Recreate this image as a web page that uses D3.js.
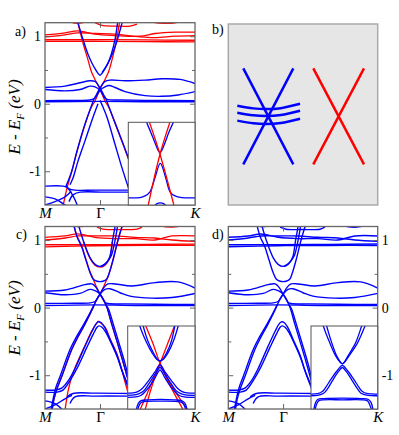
<!DOCTYPE html>
<html>
<head>
<meta charset="utf-8">
<script src="https://cdn.jsdelivr.net/npm/d3@7"></script>
<style>
  body { margin: 0; background: #fff; }
  text { font-family: "Liberation Serif", "Times New Roman", serif; }
</style>
</head>
<body>
<svg width="399" height="435"></svg>
<script>
// k path length along M - Γ - K (arbitrary units), energies in eV
const kTicks = [0, 55, 150];
const kLabels = ["M", "Γ", "K"];
const eMajor = [-1, 0, 1];
const eMinor = [-0.5, 0.5];
const eRange = [-1.5, 1.2];

// ---- panel a ----
const aRed = [
  [[0,1.02],[20,1.05],[33,1.08],[50,1.03],[70,1.01],[95,1.0],[110,1.04],[130,1.06],[150,1.06]],
  [[0,0.99],[20,1.02],[33,1.05],[50,1.04],[70,1.03],[95,0.99],[110,0.98],[130,1.0],[150,1.01]],
  [[0,0.95],[50,0.95],[100,0.945],[150,0.94]],
  [[0,0.925],[50,0.925],[100,0.92],[150,0.915]],
  [[20,1.27],[26,1.21],[33,1.19],[40,1.21],[45,1.27]],
  [[50,1.2],[57,1.16],[70,1.15],[85,1.15],[92,1.18]],
  [[100,1.27],[110,1.2],[122,1.19],[133,1.21],[140,1.27]],
  [[55,0.22],[50,0.36],[46.5,0.47],[43,0.65],[38,0.9],[32,1.25]],
  [[55,0.22],[60,0.36],[63.5,0.47],[67,0.65],[71,0.9],[75,1.25]],
  [[55,0.22],[50,0.04],[46,-0.06],[40,-0.31],[32,-0.71],[26.7,-1.01],[22,-1.25],[18,-1.52]],
  [[55,0.22],[60,0.04],[64,-0.06],[70,-0.29],[77,-0.56],[84,-0.84]]
];
const aBlue = [
  [[32,1.25],[38,0.95],[43.3,0.72],[47,0.6],[50,0.52],[53,0.45],[55,0.42],[57,0.45],[60,0.52],[63,0.6],[66,0.72],[70,0.95],[73,1.25]],
  [[57,0.46],[61,0.55],[65,0.66],[69,0.8],[73,0.98],[78,1.25]],
  [[0,0.24],[20,0.26],[35,0.31],[45,0.34],[50,0.33],[53,0.28],[55,0.23],[57,0.18],[59,0.12],[61,0.07],[64,-0.05],[70,-0.28],[77,-0.55],[84,-0.83]],
  [[150,0.3],[135,0.36],[117,0.37],[100,0.35],[80,0.34],[65,0.35],[60,0.33],[57,0.28],[55,0.23],[53,0.18],[51,0.12],[49,0.07],[46,-0.05],[40,-0.3],[32,-0.7],[26.7,-1.0],[23,-1.15],[21,-1.22]],
  [[55,0.05],[58,-0.05],[62,-0.2],[70,-0.6],[77,-0.95],[84,-1.27]],
  [[53,0.0],[48,-0.2],[40,-0.55],[33,-0.85],[28,-1.1],[25,-1.2]],
  [[0,0.21],[20,0.19],[35,0.21],[45,0.26],[50,0.25],[55,0.2],[58,0.13],[60,0.08],[63,0.06],[75,0.055],[100,0.05],[150,0.045]],
  [[0,0.045],[30,0.05],[45,0.055],[50,0.08],[52,0.13],[55,0.2],[60,0.25],[64,0.27],[70,0.24],[80,0.18],[100,0.12],[117,0.11],[133,0.13],[150,0.18]],
  [[0,0.03],[50,0.035],[100,0.03],[150,0.03]],
  [[0,-1.22],[18,-1.22],[22,-1.24],[26.7,-1.33],[31.7,-1.48],[33,-1.55]],
  [[21,-1.22],[24,-1.26],[30,-1.28],[50,-1.28],[84,-1.28]],
  [[24,-1.45],[28,-1.35],[35,-1.31],[60,-1.31],[84,-1.31]],
  [[0,-1.38],[10,-1.41],[15,-1.45],[21.7,-1.52]],
  [[0,-1.5],[10,-1.45],[20,-1.38],[26,-1.3]]
];

// ---- panel c (panel d shows the same bands, all blue) ----
const cRedTop = [
  [[0,1.04],[20,1.06],[33,1.09],[50,1.04],[70,1.02],[90,1.02],[110,1.0],[127,1.06],[150,1.06]],
  [[0,1.0],[20,1.03],[33,1.06],[50,1.06],[70,1.06],[90,1.04],[110,1.03],[127,1.0],[150,0.98]],
  [[0,0.93],[50,0.93],[100,0.935],[150,0.94]],
  [[0,0.9],[50,0.915],[100,0.92],[150,0.92]],
  [[24,1.27],[30,1.21],[37,1.2],[44,1.24]],
  [[52,1.19],[58,1.16],[75,1.155],[92,1.16],[97,1.19]],
  [[108,1.27],[116,1.21],[127,1.19],[138,1.22],[143,1.27]]
];
const cRedCone = [
  [[55,0.2],[51,0.32],[48,0.43],[45,0.53],[41,0.71],[36.7,0.91],[32,1.06],[28.3,1.26]],
  [[55,0.2],[59,0.32],[62,0.43],[64.2,0.51],[68,0.71],[72,0.95],[75,1.11],[78.3,1.26]],
  [[55,0.2],[51,0.1],[48,0.0],[40,-0.245],[33,-0.435],[26.7,-0.625],[16.7,-1.02],[12,-1.2],[9,-1.35],[7,-1.52]],
  [[55,0.2],[59,0.1],[62,0.0],[66.7,-0.245],[72,-0.5],[78,-0.8],[84,-1.12]],
  [[38.3,0.98],[45,0.728],[50,0.628],[55,0.598],[60,0.628],[64.5,0.728],[67.5,0.98]],
  [[53.3,-0.198],[47,-0.34],[40,-0.56],[30,-0.89],[26,-1.06],[23,-1.24],[20,-1.52]],
  [[53.3,-0.198],[60,-0.29],[65,-0.46],[72,-0.69],[76.7,-0.91],[80,-1.1],[84,-1.3]]
];
const cBlue = [
  [[33,1.25],[38.3,0.99],[45,0.74],[50,0.64],[55,0.61],[60,0.64],[64.5,0.74],[67.5,0.99],[70.7,1.25]],
  [[56,0.615],[61,0.66],[66,0.76],[70,0.99],[73,1.25]],
  [[28.3,1.25],[32,1.05],[36.7,0.9],[41,0.7],[45,0.52],[48.3,0.42],[52,0.39],[58,0.39],[61.7,0.42],[64,0.5],[68,0.7],[72,0.94],[75,1.1],[78.3,1.25]],
  [[0,0.244],[20,0.26],[40,0.34],[47,0.35],[51,0.3],[55,0.2],[59,0.1],[62,0.0],[66.7,-0.24],[72,-0.5],[78,-0.8],[84,-1.12]],
  [[150,0.29],[133,0.38],[110,0.37],[87,0.32],[70,0.35],[63,0.35],[59,0.3],[55,0.2],[51,0.1],[48,0.0],[40,-0.24],[33,-0.43],[26.7,-0.62],[16.7,-1.02],[12,-1.2],[9,-1.35],[7,-1.52]],
  [[49,0.04],[47,-0.02],[39,-0.24],[31.5,-0.43],[25,-0.62],[15,-1.02],[10.5,-1.2],[6,-1.52]],
  [[61,0.04],[63.5,-0.02],[68.2,-0.24],[73.5,-0.5],[79.5,-0.8],[85,-1.12]],
  [[0,0.22],[20,0.19],[35,0.21],[45,0.27],[50,0.25],[55,0.2],[58,0.13],[60,0.08],[63,0.06],[80,0.055],[110,0.05],[150,0.045]],
  [[0,0.06],[30,0.065],[45,0.07],[50,0.09],[52,0.13],[55,0.2],[60,0.27],[65,0.28],[75,0.22],[85,0.17],[107,0.14],[127,0.15],[150,0.21]],
  [[0,0.03],[50,0.04],[100,0.03],[150,0.03]],
  [[0,-1.22],[10,-1.22],[16.7,-1.19],[23.3,-1.08],[30,-0.9],[40,-0.57],[47,-0.35],[51,-0.24],[53.3,-0.21],[56,-0.22],[60,-0.3],[65,-0.47],[72,-0.7],[76.7,-0.92],[81.7,-1.1],[85,-1.2]],
  [[0,-1.25],[12,-1.25],[18,-1.22],[25,-1.08],[32,-0.9],[41.5,-0.6],[48,-0.4],[52,-0.29],[54,-0.27],[57,-0.29],[61,-0.37],[66,-0.52],[73,-0.76],[78,-0.98],[85,-1.25]],
  [[22,-1.32],[28,-1.27],[50,-1.265],[85,-1.27]],
  [[25,-1.42],[30,-1.32],[50,-1.31],[85,-1.31]],
  [[0,-1.38],[10,-1.42],[18,-1.52]],
  [[0,-1.5],[10,-1.44],[20,-1.35],[27,-1.3]]
];

// ---- insets: k relative to Γ, energy window 0 .. 0.3 eV ----
const inK = [-1, 1];
const inE = [0, 0.3];
const aInRed = [
  [[-0.40,0.312],[-0.05,0.184],[0.40,-0.016]],
  [[0.28,0.312],[-0.05,0.184],[-0.43,-0.016]]
];
const aInBlue = [
  [[-0.47,0.31],[-0.45,0.30],[-0.33,0.265],[-0.2,0.226],[-0.1,0.197],[-0.05,0.19],[0,0.197],[0.1,0.226],[0.22,0.265],[0.35,0.30],[0.37,0.31]],
  [[-1.05,0.026],[-0.65,0.027],[-0.5,0.033],[-0.35,0.048],[-0.2,0.099],[-0.04,0.151],[0.12,0.099],[0.25,0.048],[0.4,0.033],[0.6,0.027],[1.05,0.026]],
  [[-0.25,-0.01],[-0.15,0.004],[-0.04,0.008],[0.07,0.004],[0.17,-0.01]]
];
const cInRed = [
  [[-0.5,0.31],[-0.26,0.24],[-0.04,0.165],[0.24,0.09],[0.68,-0.01]],
  [[0.42,0.31],[0.2,0.24],[-0.04,0.165],[-0.3,0.09],[-0.66,-0.01]],
  [[-0.04,0.165],[0.3,0.085],[0.82,-0.01]],
  [[-0.04,0.165],[-0.26,0.09],[-0.5,-0.01]]
];
const cInBlue = [
  [[-0.66,0.31],[-0.64,0.3],[-0.46,0.246],[-0.28,0.204],[-0.14,0.18],[-0.04,0.174],[0.06,0.18],[0.2,0.204],[0.36,0.246],[0.5,0.3],[0.52,0.31]],
  [[-0.56,0.31],[-0.54,0.3],[-0.4,0.246],[-0.24,0.204],[-0.12,0.18],[-0.04,0.174],[0.04,0.18],[0.16,0.204],[0.3,0.246],[0.4,0.3],[0.42,0.31]],
  [[-1.05,0.057],[-0.84,0.0585],[-0.7,0.063],[-0.56,0.075],[-0.4,0.099],[-0.2,0.132],[-0.04,0.159],[0.12,0.132],[0.32,0.099],[0.48,0.075],[0.62,0.063],[0.76,0.0585],[1.05,0.057]],
  [[-1.05,0.0495],[-0.8,0.051],[-0.66,0.0555],[-0.52,0.066],[-0.38,0.09],[-0.2,0.123],[-0.04,0.15],[0.12,0.123],[0.3,0.09],[0.44,0.066],[0.58,0.0555],[0.72,0.051],[1.05,0.0495]],
  [[-1.05,0.042],[-0.76,0.0435],[-0.6,0.0495],[-0.48,0.063],[-0.34,0.084],[-0.18,0.114],[-0.04,0.141],[0.1,0.114],[0.26,0.084],[0.4,0.063],[0.52,0.0495],[0.68,0.0435],[1.05,0.042]],
  [[-0.76,-0.01],[-0.68,0.021],[-0.6,0.03],[-0.4,0.033],[-0.04,0.0345],[0.4,0.033],[0.6,0.03],[0.7,0.021],[0.78,-0.01]],
  [[-0.72,-0.01],[-0.64,0.018],[-0.56,0.0255],[-0.04,0.0285],[0.56,0.0255],[0.66,0.018],[0.74,-0.01]]
];
const dInBlue = [
  [[-0.65,0.31],[-0.63,0.3],[-0.44,0.24],[-0.26,0.192],[-0.12,0.168],[-0.06,0.1635],[0,0.168],[0.14,0.192],[0.4,0.24],[0.62,0.3],[0.65,0.31]],
  [[-0.55,0.31],[-0.53,0.3],[-0.38,0.24],[-0.23,0.192],[-0.11,0.168],[-0.06,0.1635],[-0.01,0.168],[0.11,0.192],[0.34,0.24],[0.52,0.3],[0.55,0.31]],
  [[-1.05,0.054],[-0.8,0.0555],[-0.66,0.063],[-0.56,0.078],[-0.4,0.108],[-0.2,0.141],[-0.06,0.1575],[0.08,0.141],[0.28,0.108],[0.44,0.078],[0.54,0.063],[0.7,0.0555],[1.05,0.054]],
  [[-1.05,0.048],[-0.8,0.0495],[-0.62,0.057],[-0.51,0.072],[-0.36,0.102],[-0.18,0.135],[-0.06,0.15],[0.06,0.135],[0.24,0.102],[0.4,0.072],[0.5,0.057],[0.7,0.0495],[1.05,0.048]],
  [[-0.93,-0.01],[-0.86,0.024],[-0.8,0.0345],[-0.6,0.0375],[-0.06,0.039],[0.5,0.0375],[0.72,0.0345],[0.8,0.024],[0.87,-0.01]],
  [[-0.89,-0.01],[-0.82,0.021],[-0.76,0.03],[-0.06,0.033],[0.68,0.03],[0.74,0.021],[0.83,-0.01]]
];

// ---- panel b: schematic cones and flat bands ----
const bCross = [[[-1,1],[1,-1]], [[-1,-1],[1,1]]];
const bFlat = [
  [[-1.24,0.22],[-0.6,0.165],[-0.1,0.15],[0.5,0.17],[1.27,0.26]],
  [[-1.24,0.075],[-0.6,0.02],[-0.1,0.005],[0.5,0.025],[1.27,0.115]],
  [[-1.24,-0.09],[-0.6,-0.145],[-0.1,-0.16],[0.5,-0.14],[1.27,-0.05]]
];

const BLUE = "#0000ff", RED = "#ff0000", AXIS = "#666";
const svg = d3.select("svg");
const defs = svg.append("defs");
let nClip = 0;

function clipped(x0, y0, x1, y1) {
  const id = "clip" + (nClip++);
  defs.append("clipPath").attr("id", id).append("rect")
    .attr("x", x0).attr("y", y0).attr("width", x1 - x0).attr("height", y1 - y0);
  return svg.append("g").attr("clip-path", `url(#${id})`);
}

function drawBands(g, x, y, bands, color, w) {
  const line = d3.line().x(d => x(d[0])).y(d => y(d[1]))
    .curve(d3.curveCatmullRom.alpha(0.5));
  g.append("g").selectAll("path").data(bands).join("path")
    .attr("d", line).attr("fill", "none")
    .attr("stroke", color).attr("stroke-width", w)
    .attr("stroke-linejoin", "round");
}

const fmt = d => d < 0 ? "-" + (-d) : String(d);

function styleAxis(g, size) {
  g.attr("font-family", "Liberation Serif, serif").attr("font-size", size);
  g.select(".domain").remove();
  g.selectAll("line").attr("stroke", AXIS).attr("stroke-width", 1);
}

function bandPanel(box, layers, labelsRight) {
  const x = d3.scaleLinear().domain([0, 150]).range([box.x0, box.x1]);
  const y = d3.scaleLinear().domain(eRange).range([box.y1, box.y0]);
  const g = clipped(box.x0, box.y0, box.x1, box.y1);
  layers.forEach(l => drawBands(g, x, y, l.bands, l.color, l.w));

  // y ticks on both sides, labels left (or right for d)
  svg.append("g").attr("transform", `translate(${box.x0},0)`)
    .call(d3.axisLeft(y).tickValues(eMajor).tickSize(-5).tickPadding(4)
      .tickFormat(labelsRight ? "" : fmt))
    .call(a => styleAxis(a, 14));
  svg.append("g").attr("transform", `translate(${box.x1},0)`)
    .call(d3.axisRight(y).tickValues(eMajor).tickSize(-5).tickPadding(4)
      .tickFormat(labelsRight ? fmt : ""))
    .call(a => styleAxis(a, 14));
  [[box.x0, d3.axisLeft], [box.x1, d3.axisRight]].forEach(([px, ax]) => {
    svg.append("g").attr("transform", `translate(${px},0)`)
      .call(ax(y).tickValues(eMinor).tickSize(-3).tickFormat(""))
      .call(a => styleAxis(a, 14));
  });
  // Γ ticks
  svg.append("g").attr("transform", `translate(0,${box.y0})`)
    .call(d3.axisTop(x).tickValues([kTicks[1]]).tickSize(-5).tickFormat(""))
    .call(a => styleAxis(a, 14));
  svg.append("g").attr("transform", `translate(0,${box.y1})`)
    .call(d3.axisBottom(x).tickValues([kTicks[1]]).tickSize(-5).tickFormat(""))
    .call(a => styleAxis(a, 14));
  // k labels
  const kl = svg.append("g").attr("transform", `translate(0,${box.y1})`)
    .call(d3.axisBottom(x).tickValues(kTicks).tickSize(0).tickPadding(2)
      .tickFormat((d, i) => kLabels[i]))
    .call(a => styleAxis(a, 15));
  kl.selectAll("text").attr("font-style", (d, i) => i === 1 ? "normal" : "italic");

  svg.append("rect").attr("x", box.x0).attr("y", box.y0)
    .attr("width", box.x1 - box.x0).attr("height", box.y1 - box.y0)
    .attr("fill", "none").attr("stroke", AXIS).attr("stroke-width", 1.3);
}

function insetPanel(box, layers) {
  svg.append("rect").attr("x", box.x0).attr("y", box.y0)
    .attr("width", box.x1 - box.x0).attr("height", box.y1 - box.y0)
    .attr("fill", "#fff");
  const x = d3.scaleLinear().domain(inK).range([box.x0, box.x1]);
  const y = d3.scaleLinear().domain(inE).range([box.y1, box.y0]);
  const g = clipped(box.x0, box.y0, box.x1, box.y1);
  layers.forEach(l => drawBands(g, x, y, l.bands, l.color, 1.3));
  svg.append("rect").attr("x", box.x0).attr("y", box.y0)
    .attr("width", box.x1 - box.x0).attr("height", box.y1 - box.y0)
    .attr("fill", "none").attr("stroke", "#555").attr("stroke-width", 1);
}

function yTitle(cx, cy) {
  const t = svg.append("text")
    .attr("transform", `translate(${cx},${cy}) rotate(-90)`)
    .attr("text-anchor", "middle").attr("font-size", 17).attr("font-style", "italic");
  t.append("tspan").text("E - E");
  t.append("tspan").attr("font-size", 11).attr("dy", 4).text("F");
  t.append("tspan").attr("dy", -4).text(" (eV)");
}

function panelLabel(x, y, s) {
  svg.append("text").attr("x", x).attr("y", y).attr("font-size", 14).text(s);
}

// panel a
bandPanel({x0: 45, x1: 195, y0: 22.7, y1: 205},
  [{bands: aRed, color: RED, w: 1.3}, {bands: aBlue, color: BLUE, w: 1.4}], false);
insetPanel({x0: 128.3, x1: 195, y0: 122.3, y1: 205},
  [{bands: aInBlue, color: BLUE}, {bands: aInRed, color: RED}]);
yTitle(20, 117);
panelLabel(15, 36, "a)");

// panel c
bandPanel({x0: 45, x1: 195, y0: 226.5, y1: 409},
  [{bands: cRedTop.concat(cRedCone), color: RED, w: 1.3}, {bands: cBlue, color: BLUE, w: 1.4}], false);
insetPanel({x0: 127.7, x1: 195, y0: 326, y1: 409},
  [{bands: cInRed, color: RED}, {bands: cInBlue, color: BLUE}]);
yTitle(20, 318);
panelLabel(16, 239, "c)");

// panel d
bandPanel({x0: 228.3, x1: 377.7, y0: 226.5, y1: 409},
  [{bands: cRedTop.concat(cBlue), color: BLUE, w: 1.4}], true);
insetPanel({x0: 311, x1: 377.7, y0: 326, y1: 409},
  [{bands: dInBlue, color: BLUE}]);
panelLabel(212, 239, "d)");

// panel b
svg.append("rect").attr("x", 228.3).attr("y", 24).attr("width", 149.4).attr("height", 181)
  .attr("fill", "#e6e6e6").attr("stroke", "#aaa").attr("stroke-width", 1.5);
const by = d3.scaleLinear().domain([-1, 1]).range([164.3, 68.3]);
const bxBlue = d3.scaleLinear().domain([-1, 1]).range([243.3, 293.3]);
const bxRed = d3.scaleLinear().domain([-1, 1]).range([313.3, 364]);
const bg = svg.append("g");
const straight = sx => d3.line().x(d => sx(d[0])).y(d => by(d[1]));
bg.selectAll("path.bc").data(bCross).join("path").attr("class", "bc")
  .attr("d", straight(bxBlue)).attr("stroke", BLUE).attr("stroke-width", 2.5).attr("fill", "none");
bg.selectAll("path.bf").data(bFlat).join("path").attr("class", "bf")
  .attr("d", d3.line().x(d => bxBlue(d[0])).y(d => by(d[1])).curve(d3.curveCatmullRom.alpha(0.5)))
  .attr("stroke", BLUE).attr("stroke-width", 2.5).attr("fill", "none");
bg.selectAll("path.rc").data(bCross).join("path").attr("class", "rc")
  .attr("d", straight(bxRed)).attr("stroke", RED).attr("stroke-width", 2.5).attr("fill", "none");
panelLabel(212, 34, "b)");
</script>
</body>
</html>
